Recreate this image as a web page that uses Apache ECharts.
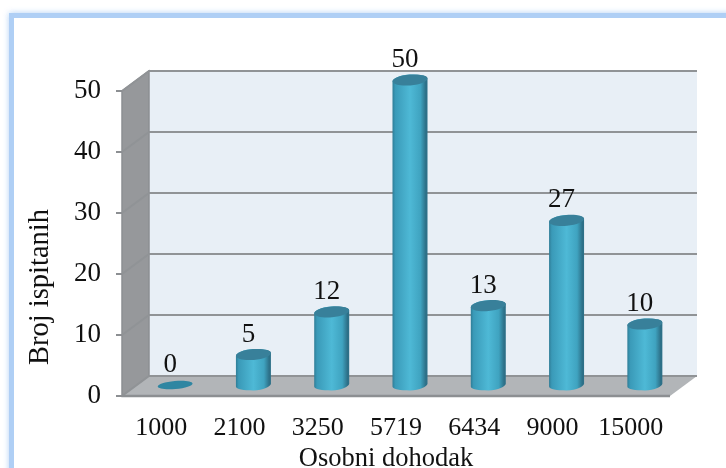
<!DOCTYPE html>
<html><head><meta charset="utf-8">
<style>html,body{margin:0;padding:0;background:#fff}#c{width:726px;height:468px}</style>
<script src="https://cdn.jsdelivr.net/npm/echarts@6/dist/echarts.min.js"></script>
</head><body><div id="c"></div>
<script>
const categories = ['1000','2100','3250','5719','6434','9000','15000'];
const values = [0,5,12,50,13,27,10];
const yTicks = [0,10,20,30,40,50];
const FONT = '"Liberation Serif","Times New Roman",serif';
const DEPTH_X = 27, DEPTH_Y = -20;
const BAR_DX = 14, BAR_DY = -11, RX = 17.5, RY = 5.4;

const chart = echarts.init(document.getElementById('c'), null, {renderer:'canvas'});

function bodyPath(cx, top, base, tilt){
  const k = 0.5522847;
  const dx = RX*k, dy = RY*k;
  return `M${cx-RX} ${top+tilt}L${cx-RX} ${base+tilt}`+
    `C${cx-RX} ${base+tilt+dy} ${cx-dx} ${base+RY} ${cx} ${base+RY}`+
    `C${cx+dx} ${base+RY} ${cx+RX} ${base-tilt+dy} ${cx+RX} ${base-tilt}`+
    `L${cx+RX} ${top-tilt}`+
    `C${cx+RX} ${top-tilt-dy} ${cx+dx} ${top-RY} ${cx} ${top-RY}`+
    `C${cx-dx} ${top-RY} ${cx-RX} ${top+tilt-dy} ${cx-RX} ${top+tilt}Z`;
}

const option = {
  animation:false,
  backgroundColor:'#fff',
  graphic:[
    {type:'rect',z:-11,silent:true,
     shape:{x:11.5,y:15.5,width:800,height:600},
     style:{fill:'#fff',stroke:'#afcff5',lineWidth:5,shadowBlur:6,shadowColor:'rgba(170,205,245,0.8)'}},
    {type:'rect',z:-10,silent:true,shape:{x:14,y:18,width:800,height:600},style:{fill:'#fff'}}
  ],
  grid:{left:122,right:56,top:91,bottom:72,containLabel:false,outerBoundsMode:'none'},
  xAxis:{type:'category',data:categories,
    name:'Osobni dohodak',nameLocation:'middle',nameGap:45,
    nameTextStyle:{fontFamily:FONT,fontSize:26.5,color:'#111',padding:[0,20,0,0]},
    axisLine:{show:false},axisTick:{show:false},splitLine:{show:false},
    axisLabel:{fontFamily:FONT,fontSize:26,color:'#111',margin:19,interval:0}},
  yAxis:{type:'value',min:yTicks[0],max:yTicks[yTicks.length-1],interval:10,
    name:'Broj ispitanih',nameLocation:'middle',nameGap:67,
    nameTextStyle:{fontFamily:FONT,fontSize:28.5,color:'#111',padding:[0,87,0,0]},
    axisLine:{show:false},
    axisTick:{show:true,length:6,lineStyle:{color:'#8c8f92',width:2}},
    splitLine:{show:false},
    axisLabel:{fontFamily:FONT,fontSize:27,color:'#111',margin:21,padding:[10,0,0,0]}},
  series:[
    {type:'custom',coordinateSystem:'cartesian2d',silent:true,z:1,
     data:[0],
     renderItem(p,api){
       const x0 = p.coordSys.x, x1 = x0+p.coordSys.width;
       const y0 = api.coord([0,0])[1], y5 = api.coord([0,50])[1];
       const ch = [];
       ch.push({type:'polygon',shape:{points:[[x0+DEPTH_X,y5+DEPTH_Y],[x1+DEPTH_X,y5+DEPTH_Y],[x1+DEPTH_X,y0+DEPTH_Y],[x0+DEPTH_X,y0+DEPTH_Y]]},style:{fill:'#e8eff6'}});
       ch.push({type:'polygon',shape:{points:[[x0,y5],[x0+DEPTH_X,y5+DEPTH_Y],[x0+DEPTH_X,y0+DEPTH_Y],[x0,y0]]},style:{fill:'#96989b',stroke:'#8c8f92',lineWidth:1.5}});
       ch.push({type:'polygon',shape:{points:[[x0,y0],[x0+DEPTH_X,y0+DEPTH_Y],[x1+DEPTH_X,y0+DEPTH_Y],[x1,y0]]},style:{fill:'#b2b5b8'}});
       yTicks.forEach(t=>{
         const y = api.coord([0,t])[1];
         ch.push({type:'polyline',shape:{points:[[x0,y],[x0+DEPTH_X,y+DEPTH_Y],[x1+DEPTH_X,y+DEPTH_Y]]},style:{fill:null,stroke:'#909396',lineWidth:2}});
       });
       ch.push({type:'line',shape:{x1:x0,y1:y0,x2:x1,y2:y0},style:{stroke:'#8c8f92',lineWidth:2.5}});
       return {type:'group',children:ch};
     }},
    {type:'custom',coordinateSystem:'cartesian2d',silent:true,z:2,
     encode:{x:0,y:1},
     data:categories.map((c,i)=>[i,values[i]]),
     renderItem(p,api){
       const v = api.value(1), i = api.value(0);
       const base = api.coord([i,0]), top = api.coord([i,v]);
       const cx = base[0]+BAR_DX, by = base[1]+BAR_DY, ty = top[1]+BAR_DY;
       const ch = [];
       const tilt = 1.6;
       const rot = Math.atan2(tilt*2, RX*2);
       if(v>0){
         ch.push({type:'path',shape:{pathData:bodyPath(cx,ty,by,tilt),layout:'cover',x:cx-RX,y:ty-RY,width:RX*2,height:by-ty+2*RY},
           style:{fill:new echarts.graphic.LinearGradient(0,0,1,0,[
             {offset:0,color:'#2f7d97'},{offset:.08,color:'#3a9ab8'},{offset:.5,color:'#4eb9d6'},{offset:.8,color:'#3fa3c0'},{offset:.95,color:'#2d7088'},{offset:1,color:'#2d7088'}])}});
       }
       ch.push({type:'ellipse',shape:{cx,cy:ty,rx:RX,ry:v>0?RY:RY*.75},rotation:rot,originX:cx,originY:ty,style:{fill:v>0?'#38809a':'#2f86a2'}});
       ch.push({type:'text',style:{text:String(v),x:cx-5,y:ty-20,align:'center',verticalAlign:'middle',font:'27px '+FONT,fill:'#111'}});
       return {type:'group',children:ch};
     }}
  ]
};
chart.setOption(option);
</script></body></html>
